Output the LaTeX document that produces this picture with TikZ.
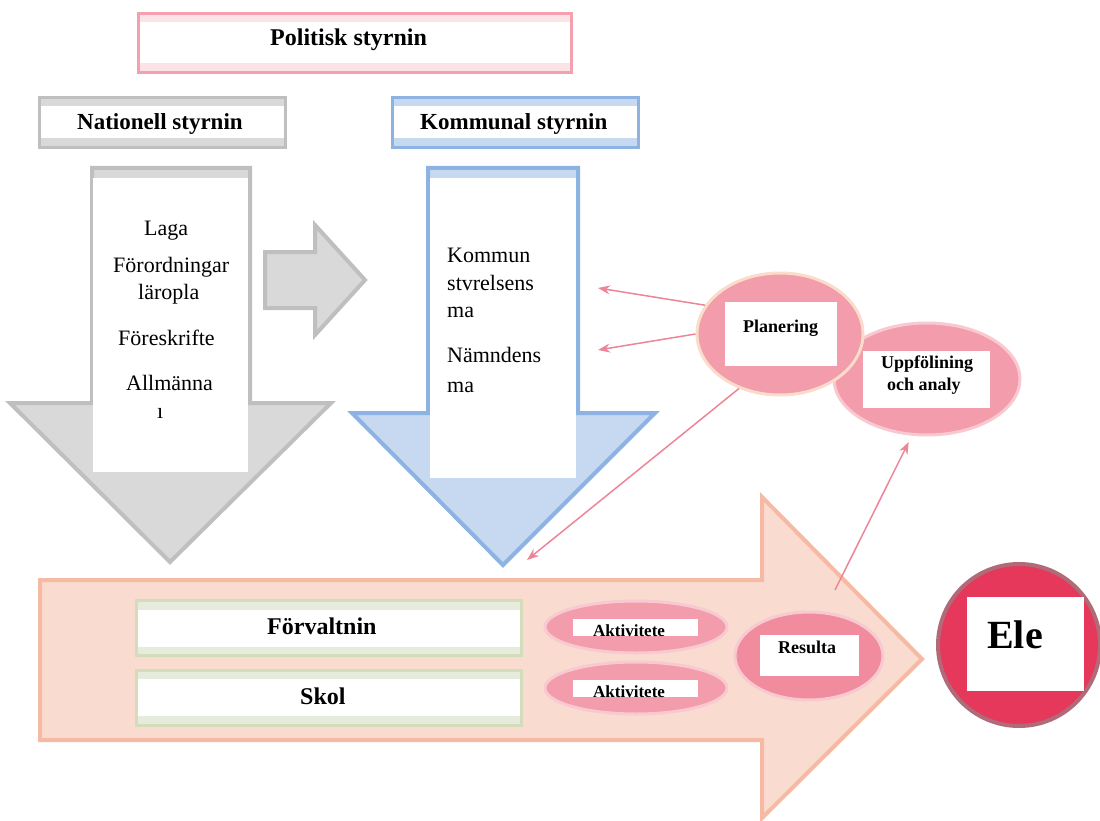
\documentclass[tikz,border=0pt]{standalone}
\usepackage{fontspec}
\setmainfont{Liberation Serif}
\usetikzlibrary{shapes.geometric,arrows.meta}
\pgfdeclarelayer{bg}
\pgfsetlayers{bg,main}

\definecolor{rosa}{HTML}{F4A0AE}
\definecolor{rosaband}{HTML}{FBE3E8}
\definecolor{gra}{HTML}{BFBFBF}
\definecolor{grafill}{HTML}{D9D9D9}
\definecolor{bla}{HTML}{8DB3E2}
\definecolor{blafill}{HTML}{C6D9F0}
\definecolor{lax}{HTML}{F6B9A3}
\definecolor{laxfill}{HTML}{F9DBD0}
\definecolor{gron}{HTML}{D3DDBC}
\definecolor{gronband}{HTML}{E5ECDB}
\definecolor{oval}{HTML}{F39CAB}
\definecolor{ovalmork}{HTML}{F08C9E}
\definecolor{persika}{HTML}{FADCCB}
\definecolor{ljusrosa}{HTML}{F8C9D1}
\definecolor{elevrod}{HTML}{E5385A}
\definecolor{elevkant}{HTML}{B06A78}
\definecolor{pil}{HTML}{EE8497}

\begin{document}
\begin{tikzpicture}[x=1pt,y=-1pt,
    band/.style 2 args={draw=#1, fill=#2, line width=3pt, inner sep=0pt,
        path picture={\fill[white] ([yshift=-9pt]path picture bounding box.north west)
            rectangle ([yshift=9pt]path picture bounding box.south east);}},
    wbox/.style 2 args={fill=white, inner sep=0pt, minimum width=#1, minimum height=#2},
    oval/.style n args={4}{ellipse, fill=#1, draw=#2, line width=3pt, inner sep=0pt,
        minimum width=#3, minimum height=#4},
    txt/.style={font=\fontsize{22}{26}\selectfont, anchor=base west, inner sep=0pt},
    hd/.style={font=\bfseries\fontsize{#1}{#1}\selectfont, anchor=base west, inner sep=0pt},
    conn/.style={draw=pil, line width=1.5pt, -{Stealth[length=12pt,width=9pt]}}]

    \useasboundingbox (0,0) rectangle (1100,821);

    \begin{pgfonlayer}{bg}
        % nationell pil
        \draw[gra, fill=grafill, line width=4pt, line join=miter]
            (92,168) -- (250,168) -- (250,403) -- (331,403) -- (170,562) -- (10,403) -- (92,403) -- cycle;
        % kommunal pil
        \draw[bla, fill=blafill, line width=4pt, line join=miter]
            (428,168) -- (578,168) -- (578,413) -- (655,413) -- (503,565) -- (352,413) -- (428,413) -- cycle;
        % liten pil
        \draw[gra, fill=grafill, line width=4pt, line join=miter]
            (265,252) -- (315,252) -- (315,225) -- (365,280) -- (315,335) -- (315,308) -- (265,308) -- cycle;
        % stora pilen
        \draw[lax, fill=laxfill, line width=4pt, line join=miter]
            (40,580) -- (762,580) -- (762,497) -- (922,659) -- (762,818) -- (762,740) -- (40,740) -- cycle;
    \end{pgfonlayer}

    \node[band={rosa}{rosaband}, minimum width=433, minimum height=59] (politisk) at (355,43) {};
    \node[hd=24] (politisk-t) at (270,46) {Politisk styrnin};

    \node[band={gra}{grafill}, minimum width=246, minimum height=50] (nationell) at (162.5,122.5) {};
    \node[hd=23] (nationell-t) at (77,130) {Nationell styrnin};

    \node[band={bla}{blafill}, minimum width=246, minimum height=50] (kommunal) at (515.5,122.5) {};
    \node[hd=23] (kommunal-t) at (420,130) {Kommunal styrnin};

    \node[wbox={155}{294}] (lagar) at (170.5,325) {};
    \foreach \x/\y/\t [count=\i] in {144/236/Laga, 113/272/Förordningar, 138/299/läropla,
            118/345/Föreskrifte, 126/390/Allmänna, 157/418/ı}
        \node[txt] (lag-\i) at (\x,\y) {\t};

    \node[wbox={146}{300}] (kommunmal) at (503,328) {};
    \foreach \y/\t [count=\i] in {262/Kommun, 290/stvrelsens, 317/ma, 362/Nämndens, 392/ma}
        \node[txt] (mal-\i) at (447,\y) {\t};

    \node[band={gron}{gronband}, minimum width=385, minimum height=55] (forvaltning) at (329,628) {};
    \node[hd=24] (forvaltning-t) at (267,634) {Förvaltnin};
    \node[band={gron}{gronband}, minimum width=385, minimum height=55] (skola) at (329,697.5) {};
    \node[hd=24] (skola-t) at (300,704) {Skol};

    % ovaler
    \node[oval={oval}{ljusrosa}{182}{52}] (akt-a) at (636,627) {};
    \node[wbox={125}{17}] (akt-a-box) at (635.5,627.5) {};
    \node[hd=17] (akt-a-t) at (593,636) {Aktivitete};
    \node[oval={oval}{ljusrosa}{182}{52}] (akt-b) at (636,688) {};
    \node[wbox={125}{17}] (akt-b-box) at (635.5,688.5) {};
    \node[hd=17] (akt-b-t) at (593,697) {Aktivitete};

    \node[oval={ovalmork}{ljusrosa}{148}{88}] (resultat) at (809,656) {};
    \node[wbox={99}{41}] (resultat-box) at (809.5,655.5) {};
    \node[hd=18] (resultat-t) at (778,653) {Resulta};

    \node[oval={oval}{ljusrosa}{186}{112}] (uppfoljning) at (927,379) {};
    \node[wbox={127}{57}] (uppfoljning-box) at (926.5,379.5) {};
    \node[hd=18] (uppfoljning-t1) at (881,368) {Uppfölining};
    \node[hd=18] (uppfoljning-t2) at (887,390) {och analy};

    \node[oval={oval}{persika}{166}{122}] (planering) at (780,334) {};
    \node[wbox={112}{64}] (planering-box) at (781,334) {};
    \node[hd=18] (planering-t) at (743,332) {Planering};

    \node[circle, fill=elevrod, draw=elevkant, line width=4pt, minimum size=162] (elev) at (1019,645) {};
    \node[wbox={117}{94}] (elev-box) at (1025.5,644) {};
    \node[hd=40] (elev-t) at (987,648) {Ele};

    % pilar
    \coordinate (ks) at (598,288);
    \coordinate (nm) at (598,350);
    \coordinate (sp) at (527,560);
    \coordinate (rs) at (835,590);
    \draw[conn] (planering.159) -- (ks);
    \draw[conn] (planering.west) -- (nm);
    \draw[conn] (planering.233) -- (sp);
    \draw[conn, shorten >=7pt] (rs) -- (uppfoljning.255);
\end{tikzpicture}
\end{document}
